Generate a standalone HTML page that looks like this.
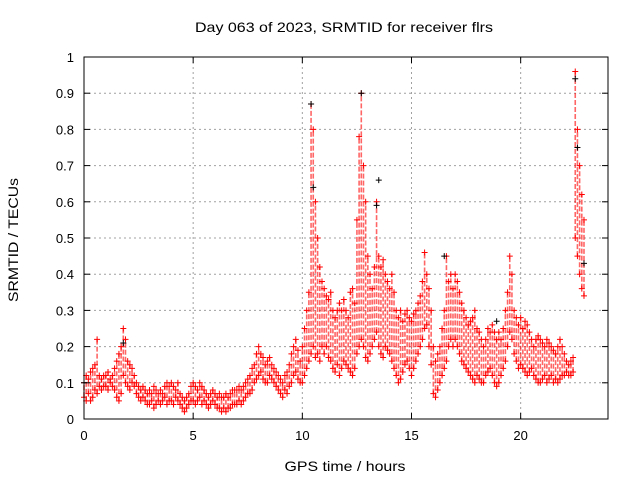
<!DOCTYPE html>
<html><head><meta charset="utf-8"><style>
html,body{margin:0;padding:0;background:#fff;}
svg{display:block;font-family:"Liberation Sans",Arial,sans-serif;}
</style></head><body>
<svg id="chart" width="640" height="480" viewBox="0 0 640 480" xmlns="http://www.w3.org/2000/svg">
<text x="344" y="32" font-size="14" text-anchor="middle" textLength="298" lengthAdjust="spacingAndGlyphs">Day 063 of 2023, SRMTID for receiver flrs</text>
<text x="0" y="0" font-size="14" text-anchor="middle" textLength="124" lengthAdjust="spacingAndGlyphs" transform="translate(18,240) rotate(-90)">SRMTID / TECUs</text>
<text x="345" y="471" font-size="14" text-anchor="middle" textLength="121" lengthAdjust="spacingAndGlyphs">GPS time / hours</text>
<g id="grid"></g>
<g id="marks"></g>
<rect x="84" y="57" width="524" height="362" fill="none" stroke="#000" stroke-width="1"/>
<g id="ticks"></g>
</svg>
<script>
const xTicks=[0,5,10,15,20];
const yTicks=[0,0.1,0.2,0.3,0.4,0.5,0.6,0.7,0.8,0.9,1];
const yTickLabels=["0","0.1","0.2","0.3","0.4","0.5","0.6","0.7","0.8","0.9","1"];
const stepHours=0.1;
const lowVals=[
.06,.05,.07,.05,.06,.08,.07,.09,.08,.09,
.09,.08,.1,.09,.08,.06,.05,.07,.12,.1,
.09,.08,.1,.09,.07,.06,.05,.06,.05,.04,
.04,.05,.03,.04,.05,.04,.05,.06,.04,.05,
.05,.04,.06,.05,.04,.03,.02,.03,.04,.05,
.05,.04,.05,.06,.04,.05,.04,.03,.04,.05,
.04,.03,.03,.02,.03,.02,.03,.03,.04,.04,
.04,.05,.04,.05,.06,.07,.07,.08,.1,.11,
.12,.13,.11,.1,.1,.12,.11,.1,.09,.08,
.07,.06,.08,.07,.09,.1,.12,.13,.11,.1,
.1,.12,.14,.16,.18,.2,.17,.18,.16,.2,
.18,.2,.17,.16,.14,.13,.15,.12,.14,.16,
.15,.14,.13,.12,.14,.18,.2,.22,.2,.17,
.16,.18,.2,.22,.24,.2,.18,.17,.2,.19,
.18,.16,.14,.12,.1,.11,.13,.15,.16,.14,
.12,.14,.16,.18,.2,.22,.25,.26,.2,.15,
.07,.06,.08,.1,.12,.14,.16,.2,.22,.2,
.22,.2,.18,.16,.15,.14,.13,.12,.11,.1,
.12,.11,.1,.1,.12,.13,.14,.12,.1,.09,
.1,.12,.14,.16,.2,.24,.22,.18,.16,.14,
.15,.14,.13,.12,.13,.14,.12,.11,.1,.1,
.11,.12,.1,.11,.12,.1,.11,.1,.11,.12,
.12,.13,.12,.12,.13,.5,.45,.4,.36,.34];
const highVals=[
.1,.12,.11,.13,.14,.15,.22,.12,.11,.12,
.12,.13,.11,.12,.14,.16,.18,.2,.25,.22,
.16,.15,.14,.12,.1,.09,.08,.09,.08,.07,
.08,.07,.09,.08,.07,.08,.07,.09,.1,.09,
.1,.09,.08,.1,.07,.06,.05,.06,.07,.09,
.1,.09,.08,.1,.09,.08,.07,.06,.07,.08,
.07,.06,.07,.06,.06,.07,.06,.07,.08,.08,
.08,.09,.08,.09,.1,.11,.12,.14,.15,.18,
.2,.18,.17,.15,.16,.17,.15,.14,.13,.12,
.11,.1,.12,.13,.15,.18,.2,.22,.19,.16,
.2,.25,.3,.35,.87,.8,.6,.5,.42,.38,
.36,.34,.33,.35,.3,.28,.3,.32,.3,.33,
.3,.28,.35,.36,.32,.55,.78,.9,.7,.6,
.45,.4,.36,.42,.6,.45,.42,.44,.4,.38,
.36,.4,.35,.3,.28,.3,.27,.29,.3,.28,
.27,.29,.3,.32,.34,.38,.46,.4,.36,.3,
.2,.16,.18,.2,.25,.3,.45,.38,.4,.36,
.4,.38,.35,.32,.3,.28,.26,.27,.28,.3,
.25,.24,.22,.2,.22,.25,.24,.26,.24,.22,
.24,.22,.25,.3,.35,.45,.4,.3,.28,.26,
.28,.25,.27,.26,.24,.22,.2,.22,.23,.22,
.21,.2,.22,.21,.2,.19,.18,.2,.22,.2,
.18,.16,.15,.16,.17,.96,.8,.7,.62,.55];
const blackTimes=[0.0,1.8,10.4,10.5,12.7,13.4,13.5,16.5,18.9,22.5,22.6,22.9];
const blackVals=[0.1,0.21,0.87,0.64,0.9,0.59,0.66,0.45,0.27,0.94,0.75,0.43];

const X0=84,X1=608,Y0=419,Y1=57;
const xs=h=>X0+h/24*(X1-X0);
const ys=v=>Y0-v*(Y0-Y1);
const NS="http://www.w3.org/2000/svg";
function mk(tag,attrs,parent){const e=document.createElementNS(NS,tag);for(const k in attrs)e.setAttribute(k,attrs[k]);parent.appendChild(e);return e;}
const grid=document.getElementById('grid'),ticks=document.getElementById('ticks'),marks=document.getElementById('marks');
yTicks.forEach((v,i)=>{
  const y=ys(v);
  if(i>0&&i<yTicks.length-1){const g=mk('line',{x1:X0,x2:X1,y1:y,y2:y,stroke:'#a0a0a0','stroke-dasharray':'2,3','stroke-width':1},grid);
  
  }
  const t=mk('line',{x1:X0,x2:X0+6,y1:y,y2:y,stroke:'#000'},ticks);
  
  
  const t2=mk('line',{x1:X1-6,x2:X1,y1:y,y2:y,stroke:'#000'},ticks);
  
  
  const l=mk('text',{x:X0-10,y:y+5,'font-size':13,'text-anchor':'end'},ticks);l.textContent=yTickLabels[i];
  
  
});
xTicks.forEach(h=>{
  const x=xs(h);
  if(h>0){const g=mk('line',{x1:x,x2:x,y1:Y0,y2:Y1,stroke:'#a0a0a0','stroke-dasharray':'2,3'},grid);
  
  }
  const t=mk('line',{x1:x,x2:x,y1:Y0,y2:Y0-6,stroke:'#000'},ticks);
  
  
  const t2=mk('line',{x1:x,x2:x,y1:Y1,y2:Y1+6,stroke:'#000'},ticks);
  
  
  const l=mk('text',{x:x,y:Y0+21,'font-size':13,'text-anchor':'middle'},ticks);l.textContent=String(h);
  
  
});
function cross(x,y,c,name){
  const p=mk('path',{d:`M${x-3},${y}h6M${x},${y-3}v6`,stroke:c,'stroke-width':1,fill:'none'},marks);
  
  
}
lowVals.forEach((lo,i)=>{
  const x=xs(i*stepHours),hi=highVals[i];
  const r=mk('line',{x1:x,x2:x,y1:ys(lo),y2:ys(hi),stroke:'#ff0000','stroke-width':1.6,opacity:0.6,'stroke-dasharray':'5,2'},marks);
  
  
  cross(x,ys(lo),'#ff0000','low-point');
  cross(x,ys(hi),'#ff0000','high-point');
});
blackTimes.forEach((t,i)=>cross(xs(t),ys(blackVals[i]),'#000','black-point'));
</script>
</body></html>
